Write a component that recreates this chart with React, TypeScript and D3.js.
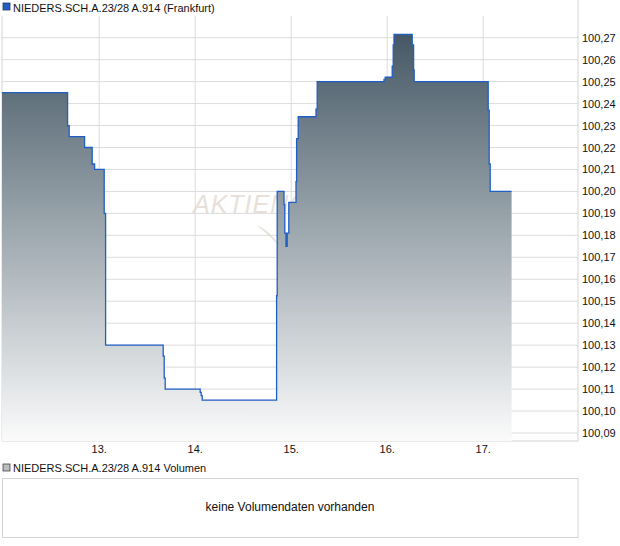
import React from "react";
import * as d3 from "d3";

// hours relative to day 13, 00:00
const times: number[] = [-24.3, -7.9, -7.5, -3.65, -1.75, -1.15, 1.25, 1.6, 16.0, 16.25, 16.5, 25.25, 25.5, 25.75, 44.35, 44.5, 46.2, 46.4, 46.7, 47.0, 47.4, 49.2, 49.35, 49.75, 54.2, 54.5, 71.2, 71.5, 73.25, 73.5, 73.7, 78.25, 78.6, 78.75, 97.25, 97.5, 97.75, 103.1];
const prices: number[] = [100.245, 100.23, 100.225, 100.22, 100.2125, 100.21, 100.19, 100.13, 100.125, 100.115, 100.11, 100.1085, 100.107, 100.105, 100.1525, 100.2, 100.194, 100.181, 100.175, 100.181, 100.195, 100.2045, 100.224, 100.234, 100.2375, 100.25, 100.251, 100.252, 100.257, 100.2667, 100.2715, 100.2667, 100.2553, 100.25, 100.237, 100.2125, 100.2, 100.2];

const dayTicks: number[] = [0, 24, 48, 72, 96];
const dayLabels: string[] = ["13.", "14.", "15.", "16.", "17."];
const priceTicks: number[] = [100.09, 100.1, 100.11, 100.12, 100.13, 100.14, 100.15, 100.16, 100.17, 100.18, 100.19, 100.2, 100.21, 100.22, 100.23, 100.24, 100.25, 100.26, 100.27];

const title = "NIEDERS.SCH.A.23/28 A.914 (Frankfurt)";
const volTitle = "NIEDERS.SCH.A.23/28 A.914 Volumen";
const noVol = "keine Volumendaten vorhanden";

export default function App() {
  const left = 2, right = 578, top = 16, bottom = 441;
  const x = d3.scaleLinear().domain([-24.3, 119.7]).range([left, right]);
  const y = d3.scaleLinear().domain([100.09, 100.27]).range([433, 37.7]);
  const data = times.map((t, i) => ({ t, v: prices[i] }));
  const area = d3.area<{ t: number; v: number }>()
    .x(d => x(d.t)).y0(bottom).y1(d => y(d.v)).curve(d3.curveStepAfter);
  const line = d3.line<{ t: number; v: number }>()
    .x(d => x(d.t)).y(d => y(d.v)).curve(d3.curveStepAfter);
  const font = "'Liberation Sans', Arial, sans-serif";
  return (
    <svg width={620} height={546} style={{ position: "absolute", left: 0, top: 0, background: "#fff" }} fontFamily={font}>
      <defs>
        <linearGradient id="fillGrad" gradientUnits="userSpaceOnUse" x1="0" y1="34" x2="0" y2={bottom}>
          <stop offset="0" stopColor="#465865" />
          <stop offset="0.4" stopColor="#8e9aa2" />
          <stop offset="1" stopColor="#fbfbfb" />
        </linearGradient>
      </defs>
      <rect x={3} y={3} width={7} height={7} fill="#2160c4" stroke="#2a3a55" strokeWidth={0.8} />
      <text x={13} y={12} fontSize={11} fill="#111">{title}</text>
      {/* watermark */}
      <text x={193} y={213} fontSize={25} fontStyle="italic" fill="#e7e1da" letterSpacing={1}>AKTIENCHECK</text>
      <path d="M256,225 Q272,231 283,252 Q273,237 256,225 Z" fill="#e7e1da" />
      {/* grid */}
      {priceTicks.map(p => (
        <line key={p} x1={left} x2={right} y1={y(p)} y2={y(p)} stroke="#dcdcdc" />
      ))}
      {dayTicks.map(d => (
        <line key={d} x1={x(d)} x2={x(d)} y1={top} y2={bottom} stroke="#dcdcdc" />
      ))}
      <line x1={left} x2={left} y1={top} y2={bottom} stroke="#d4d4d4" />
      <line x1={left} x2={right} y1={bottom} y2={bottom} stroke="#d4d4d4" />
      <line x1={right} x2={right} y1={0} y2={bottom} stroke="#d4d4d4" />
      <path d={area(data) || ""} fill="url(#fillGrad)" />
      <path d={line(data) || ""} fill="none" stroke="#1f5fc4" strokeWidth={1.3} />
      {priceTicks.map(p => (
        <text key={p} x={582} y={y(p) + 4} fontSize={11} fill="#111">{p.toFixed(2).replace(".", ",")}</text>
      ))}
      {dayTicks.map((d, i) => (
        <text key={d} x={x(d)} y={453} fontSize={11} textAnchor="middle" fill="#111">{dayLabels[i]}</text>
      ))}
      <rect x={3} y={464} width={7} height={7} fill="#bdbdbd" stroke="#444" strokeWidth={0.8} />
      <text x={13} y={472} fontSize={11} fill="#111">{volTitle}</text>
      <rect x={2.5} y={478.5} width={575.5} height={59} fill="none" stroke="#d4d4d4" />
      <text x={290} y={511} fontSize={12} textAnchor="middle" fill="#111">{noVol}</text>
    </svg>
  );
}
